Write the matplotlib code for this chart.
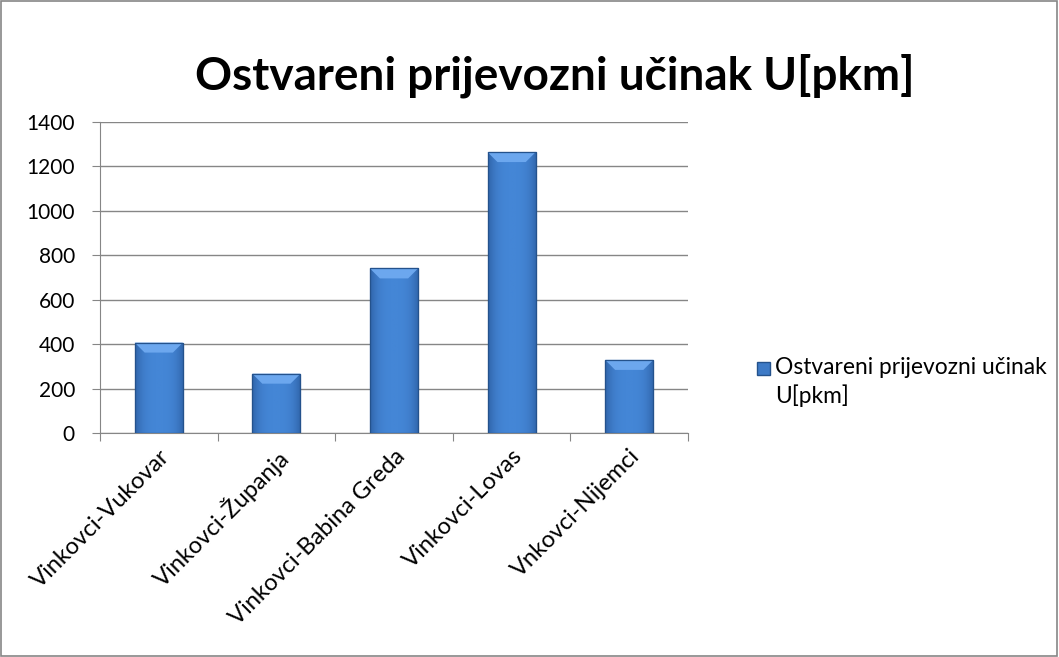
import numpy as np
import matplotlib
matplotlib.use('Agg')
import matplotlib.pyplot as plt
from matplotlib.patches import Rectangle, Polygon

# data
relations = ['Vinkovci-Vukovar', 'Vinkovci-Županja', 'Vinkovci-Babina Greda',
             'Vinkovci-Lovas', 'Vnkovci-Nijemci']
ucinak = [407, 267, 741, 1265, 329]
series_name = 'Ostvareni prijevozni učinak\nU[pkm]'
title = 'Ostvareni prijevozni učinak U[pkm]'
yticks = [0, 200, 400, 600, 800, 1000, 1200, 1400]

plt.rcParams['font.family'] = ['Lato', 'DejaVu Sans']

fig = plt.figure(figsize=(10.59, 6.57), dpi=100)
ax = fig.add_axes([0.0944, 0.341, 0.5553, 0.4732])

x = np.arange(len(relations))
w = 0.41
bars = ax.bar(x, ucinak, width=w, color='#3D7AC6', edgecolor='#2A5A96', linewidth=0.8, zorder=3)

ax.set_xlim(-0.5, len(relations) - 0.5)
ax.set_ylim(0, 1400)

# px -> data for the bevel
ax_h_px = ax.get_position().height * fig.get_figheight() * fig.dpi
ax_w_px = ax.get_position().width * fig.get_figwidth() * fig.dpi
bev_y = 10 * 1400 / ax_h_px
bev_x = 10 * len(relations) / ax_w_px

grad = np.abs(np.linspace(-1, 1, 64)) ** 3
grad = grad.reshape(1, -1)
cmap = matplotlib.colors.LinearSegmentedColormap.from_list('b', ['#4486D6', '#3064AA'])
for b in bars:
    bx, by, bw, bh = b.get_x(), b.get_y(), b.get_width(), b.get_height()
    im = ax.imshow(grad, extent=[bx, bx + bw, by, by + bh], aspect='auto', cmap=cmap,
                   zorder=3.5, origin='lower')
    im.set_clip_path(b)
    ax.add_patch(Polygon([[bx, by + bh], [bx + bw, by + bh], [bx + bw - bev_x, by + bh - bev_y],
                          [bx + bev_x, by + bh - bev_y]], closed=True,
                         facecolor='#6CA7EE', edgecolor='none', zorder=4))
    ax.add_patch(Rectangle((bx, by), bw, bh, facecolor='none', edgecolor='#24528C',
                           linewidth=0.9, zorder=5))

ax.set_yticks(yticks)
ax.tick_params(axis='y', labelsize=15, length=6, color='#868686', pad=12)
ax.yaxis.grid(True, color='#868686', linewidth=1, zorder=0)
ax.set_axisbelow(True)

ax.set_xticks(np.arange(len(relations) + 1) - 0.5)
ax.set_xticklabels([])
ax.set_xticks(x, minor=True)
ax.set_xticklabels(relations, minor=True, rotation=45, ha='right', rotation_mode='anchor', fontsize=17)
ax.tick_params(axis='x', which='major', length=6, color='#868686')
ax.tick_params(axis='x', which='minor', length=0, pad=9)

for s in ['top', 'right']:
    ax.spines[s].set_visible(False)
ax.spines['left'].set_color('#868686')
ax.spines['bottom'].set_color('#868686')

fig.text(0.524, 0.884, title, ha='center', va='center', fontsize=33, fontweight='bold')

# legend
fig.patches.append(Rectangle((757 / 1059, 1 - 375 / 657), 13 / 1059, 13 / 657, transform=fig.transFigure,
                             facecolor='#3D7AC6', edgecolor='#24528C', figure=fig))
fig.text(775 / 1059, 1 - 357 / 657, series_name, ha='left', va='top', fontsize=16.4, linespacing=1.35)

# outer frame
fig.patches.append(Rectangle((0.001, 0.001), 0.997, 0.997, transform=fig.transFigure,
                             facecolor='none', edgecolor='#868686', linewidth=1.2, figure=fig))

fig.savefig('out.png', dpi=100)
